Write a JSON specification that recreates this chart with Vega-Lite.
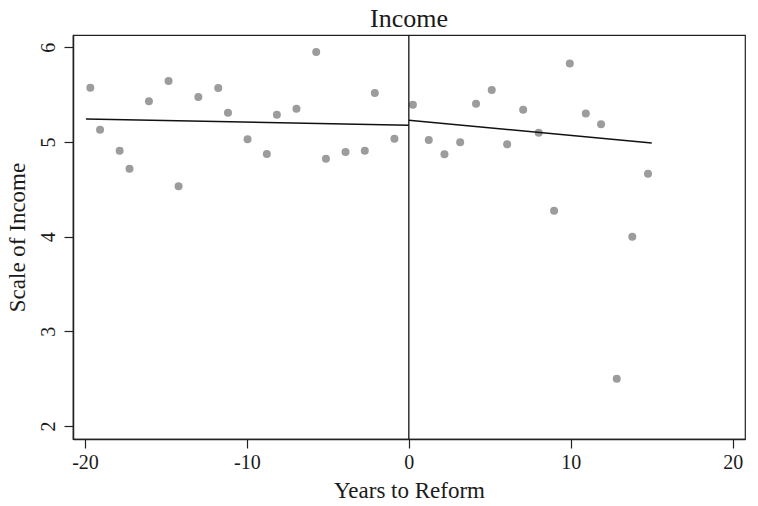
{
  "$schema": "https://vega.github.io/schema/vega-lite/v6.json",
  "width": 672,
  "height": 404,
  "autosize": "none",
  "padding": {"left": 73, "top": 35, "right": 13, "bottom": 67},
  "background": "white",
  "config": {
    "font": "Liberation Serif",
    "view": {"stroke": "#222222", "strokeWidth": 1.2},
    "axis": {
      "grid": false,
      "domainColor": "#222222",
      "domainWidth": 1.5,
      "tickColor": "#222222",
      "tickWidth": 1.2,
      "tickSize": 9,
      "labelFont": "Liberation Serif",
      "labelFontSize": 20,
      "labelColor": "#1a1a1a",
      "titleFont": "Liberation Serif",
      "titleFontSize": 23,
      "titleFontWeight": "normal",
      "titleColor": "#1a1a1a"
    }
  },
  "title": {
    "text": "Income",
    "font": "Liberation Serif",
    "fontSize": 26,
    "fontWeight": "normal",
    "color": "#1a1a1a",
    "anchor": "middle",
    "baseline": "alphabetic",
    "offset": 9,
    "dy": 28
  },
  "datasets": {
    "points": [
      {"years": -19.67, "income": 5.573},
      {"years": -19.07, "income": 5.13},
      {"years": -17.86, "income": 4.908},
      {"years": -17.25, "income": 4.718},
      {"years": -16.05, "income": 5.43},
      {"years": -14.84, "income": 5.644},
      {"years": -14.22, "income": 4.532},
      {"years": -13.0, "income": 5.475},
      {"years": -11.77, "income": 5.57},
      {"years": -11.17, "income": 5.31},
      {"years": -9.96, "income": 5.03},
      {"years": -8.77, "income": 4.873},
      {"years": -8.15, "income": 5.288},
      {"years": -6.94, "income": 5.35},
      {"years": -5.72, "income": 5.95},
      {"years": -5.12, "income": 4.824},
      {"years": -3.91, "income": 4.894},
      {"years": -2.72, "income": 4.908},
      {"years": -2.1, "income": 5.517},
      {"years": -0.89, "income": 5.035},
      {"years": 0.25, "income": 5.394},
      {"years": 1.23, "income": 5.021},
      {"years": 2.2, "income": 4.87},
      {"years": 3.17, "income": 4.997},
      {"years": 4.15, "income": 5.404},
      {"years": 5.12, "income": 5.549},
      {"years": 6.07, "income": 4.976},
      {"years": 7.06, "income": 5.341},
      {"years": 8.02, "income": 5.098},
      {"years": 8.97, "income": 4.275},
      {"years": 9.94, "income": 5.83},
      {"years": 10.93, "income": 5.3},
      {"years": 11.87, "income": 5.187},
      {"years": 12.84, "income": 2.5},
      {"years": 13.8, "income": 4.0},
      {"years": 14.77, "income": 4.665}
    ],
    "fits": [
      {"segment": "before", "years": -19.94, "income": 5.243},
      {"segment": "before", "years": 0, "income": 5.176},
      {"segment": "after", "years": 0, "income": 5.229},
      {"segment": "after", "years": 15.0, "income": 4.99}
    ],
    "reform": [{"years": 0}]
  },
  "layer": [
    {
      "data": {"name": "points"},
      "mark": {"type": "point", "filled": true, "color": "#9c9c9c", "opacity": 1, "size": 64},
      "encoding": {
        "x": {
          "field": "years",
          "type": "quantitative",
          "title": "Years to Reform",
          "scale": {"domain": [-20.74, 20.76], "nice": false, "zero": false},
          "axis": {"values": [-20, -10, 0, 10, 20], "labelExpr": "datum.value + ''", "labelPadding": 4, "titlePadding": 7}
        },
        "y": {
          "field": "income",
          "type": "quantitative",
          "title": "Scale of Income",
          "scale": {"domain": [1.863, 6.13], "nice": false, "zero": false},
          "axis": {
            "values": [2, 3, 4, 5, 6],
            "labelExpr": "datum.value + ''",
            "labelAngle": 270,
            "labelAlign": "center",
            "labelBaseline": "bottom",
            "labelPadding": 6,
            "titlePadding": 9
          }
        }
      }
    },
    {
      "data": {"name": "fits"},
      "mark": {"type": "line", "color": "#111111", "strokeWidth": 1.5},
      "encoding": {
        "x": {"field": "years", "type": "quantitative"},
        "y": {"field": "income", "type": "quantitative"},
        "detail": {"field": "segment"}
      }
    },
    {
      "data": {"name": "reform"},
      "mark": {"type": "rule", "color": "#111111", "strokeWidth": 1.3},
      "encoding": {
        "x": {"field": "years", "type": "quantitative"}
      }
    }
  ]
}
